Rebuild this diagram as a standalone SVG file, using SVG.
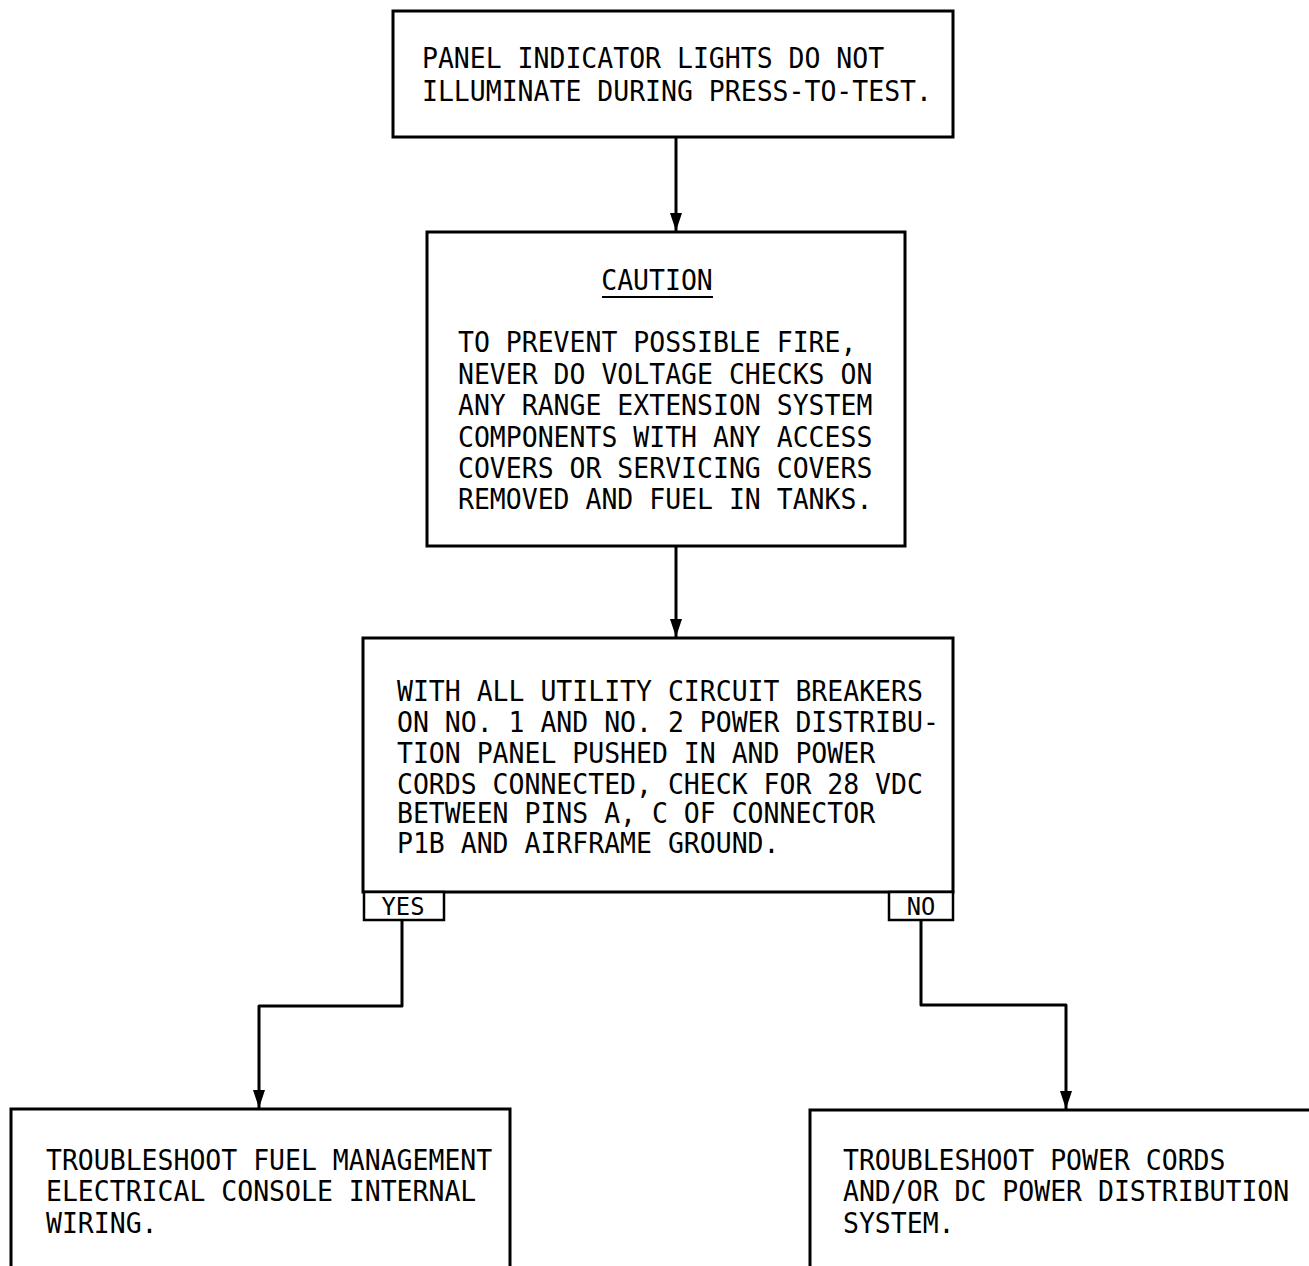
<svg xmlns="http://www.w3.org/2000/svg" width="1309" height="1266" viewBox="0 0 1309 1266">
<style>
.box{fill:none;stroke:#000;stroke-width:3}
.tab{fill:#fff;stroke:#000;stroke-width:2.5}
.t{font-family:"DejaVu Sans Mono","Liberation Mono",monospace;font-size:27.5px;fill:#000}
.s{font-family:"DejaVu Sans Mono","Liberation Mono",monospace;font-size:25px;fill:#000}
.c{fill:none;stroke:#000;stroke-width:3;stroke-linejoin:round}
</style>
<defs>
<marker id="ah" markerWidth="12" markerHeight="18" refX="6" refY="18" orient="0" markerUnits="userSpaceOnUse" viewBox="0 0 12 18">
<path d="M0,0 L12,0 L6,18 Z" fill="#000"/>
</marker>
</defs>
<rect width="1309" height="1266" fill="#fff"/>
<g id="connectors">
<line class="c" x1="676" y1="137" x2="676" y2="231" marker-end="url(#ah)"/>
<line class="c" x1="676" y1="546" x2="676" y2="637" marker-end="url(#ah)"/>
<polyline class="c" points="402,920 402,1006 259,1006 259,1108" marker-end="url(#ah)"/>
<polyline class="c" points="921,920 921,1005 1066,1005 1066,1109" marker-end="url(#ah)"/>
</g>
<g id="n1">
<rect class="box" x="393" y="11" width="560" height="126"/>
<g transform="translate(422,0) scale(0.963,1)">
<text class="t" x="0" y="68">PANEL INDICATOR LIGHTS DO NOT</text>
<text class="t" x="0" y="101">ILLUMINATE DURING PRESS-TO-TEST.</text>
</g>
</g>
<g id="n2">
<rect class="box" x="427" y="232" width="478" height="314"/>
<g transform="translate(657,0) scale(0.963,1)">
<text class="t" x="0" y="290" text-anchor="middle">CAUTION</text>
</g>
<line x1="602" y1="297" x2="713" y2="297" stroke="#000" stroke-width="2.2"/>
<g transform="translate(458,0) scale(0.963,1)">
<text class="t" x="0" y="352">TO PREVENT POSSIBLE FIRE,</text>
<text class="t" x="0" y="384">NEVER DO VOLTAGE CHECKS ON</text>
<text class="t" x="0" y="415">ANY RANGE EXTENSION SYSTEM</text>
<text class="t" x="0" y="447">COMPONENTS WITH ANY ACCESS</text>
<text class="t" x="0" y="478">COVERS OR SERVICING COVERS</text>
<text class="t" x="0" y="509">REMOVED AND FUEL IN TANKS.</text>
</g>
</g>
<g id="n3">
<rect class="box" x="363" y="638" width="590" height="254"/>
<g transform="translate(397,0) scale(0.963,1)">
<text class="t" x="0" y="701">WITH ALL UTILITY CIRCUIT BREAKERS</text>
<text class="t" x="0" y="732">ON NO. 1 AND NO. 2 POWER DISTRIBU-</text>
<text class="t" x="0" y="763">TION PANEL PUSHED IN AND POWER</text>
<text class="t" x="0" y="794">CORDS CONNECTED, CHECK FOR 28 VDC</text>
<text class="t" x="0" y="823">BETWEEN PINS A, C OF CONNECTOR</text>
<text class="t" x="0" y="853">P1B AND AIRFRAME GROUND.</text>
</g>
</g>
<g id="yes">
<rect class="tab" x="364" y="892" width="80" height="28"/>
<g transform="translate(403,0) scale(0.95,1)">
<text class="s" x="0" y="915" text-anchor="middle">YES</text>
</g>
</g>
<g id="no">
<rect class="tab" x="889" y="892" width="64" height="28"/>
<g transform="translate(921,0) scale(0.95,1)">
<text class="s" x="0" y="915" text-anchor="middle">NO</text>
</g>
</g>
<g id="n4">
<path class="box" d="M11,1266 V1109 H510 V1266"/>
<g transform="translate(46,0) scale(0.963,1)">
<text class="t" x="0" y="1170">TROUBLESHOOT FUEL MANAGEMENT</text>
<text class="t" x="0" y="1201">ELECTRICAL CONSOLE INTERNAL</text>
<text class="t" x="0" y="1233">WIRING.</text>
</g>
</g>
<g id="n5">
<path class="box" d="M810,1266 V1110 H1309"/>
<g transform="translate(843,0) scale(0.963,1)">
<text class="t" x="0" y="1170">TROUBLESHOOT POWER CORDS</text>
<text class="t" x="0" y="1201">AND/OR DC POWER DISTRIBUTION</text>
<text class="t" x="0" y="1233">SYSTEM.</text>
</g>
</g>
</svg>
